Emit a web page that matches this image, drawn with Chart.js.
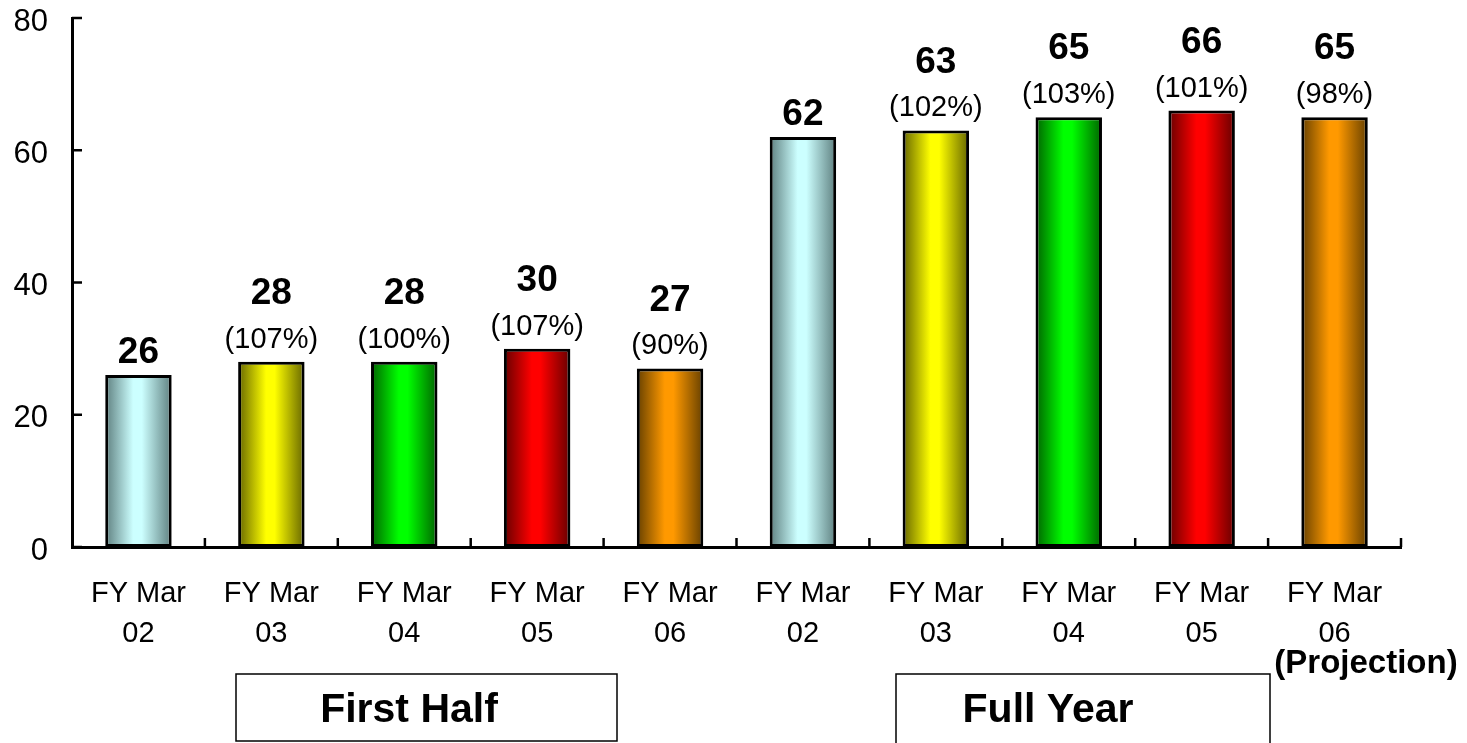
<!DOCTYPE html>
<html>
<head>
<meta charset="utf-8">
<script src="https://cdn.jsdelivr.net/npm/chart.js@4.4.1/dist/chart.umd.min.js"></script>
<style>
  html, body { margin: 0; padding: 0; background: #fff; }
  #wrap { width: 1467px; height: 743px; }
</style>
</head>
<body>
<div id="wrap"><canvas id="salesChart" width="1467" height="743"></canvas></div>
<script>
// Datos del gráfico
const categories = [
    ['FY Mar', '02'], ['FY Mar', '03'], ['FY Mar', '04'], ['FY Mar', '05'], ['FY Mar', '06'],
    ['FY Mar', '02'], ['FY Mar', '03'], ['FY Mar', '04'], ['FY Mar', '05'], ['FY Mar', '06']
];
const values = [26, 28, 28, 30, 27, 62, 63, 65, 66, 65];
const ratios = [null, '(107%)', '(100%)', '(107%)', '(90%)', null, '(102%)', '(103%)', '(101%)', '(98%)'];
const yTicks = [0, 20, 40, 60, 80];
const groupLabels = ['First Half', 'Full Year'];
const projectionLabel = '(Projection)';

// Colores: centro claro / bordes oscuros
const lightColors = ['#ccffff', '#ffff00', '#00ff00', '#ff0000', '#ff9900',
                     '#ccffff', '#ffff00', '#00ff00', '#ff0000', '#ff9900'];
const darkColors = ['#5e7f7f', '#666600', '#006400', '#660000', '#664000',
                    '#5e7f7f', '#666600', '#006400', '#660000', '#664000'];

const FONT = "'Liberation Sans', Arial, sans-serif";

// Degradado tipo cilindro en cada barra
const gradientBars = {
    id: 'gradientBars',
    beforeDatasetsDraw(chart) {
        const ctx = chart.ctx;
        chart.getDatasetMeta(0).data.forEach((bar, i) => {
            const x0 = bar.x - bar.width / 2, x1 = bar.x + bar.width / 2;
            const g = ctx.createLinearGradient(x0, 0, x1, 0);
            g.addColorStop(0, darkColors[i]);
            g.addColorStop(0.42, lightColors[i]);
            g.addColorStop(0.55, lightColors[i]);
            g.addColorStop(1, darkColors[i]);
            bar.options.backgroundColor = g;
        });
    }
};

// Marcas de los ejes (hacia dentro), etiquetas de valores y cajas de grupo
const decorations = {
    id: 'decorations',
    afterDraw(chart) {
        const ctx = chart.ctx;
        const area = chart.chartArea;
        const xs = chart.scales.x, ys = chart.scales.y;
        ctx.save();
        ctx.strokeStyle = '#000';
        ctx.lineWidth = 2.5;

        yTicks.forEach(v => {
            const y = ys.getPixelForValue(v);
            ctx.beginPath();
            ctx.moveTo(area.left, y);
            ctx.lineTo(area.left + 10, y);
            ctx.stroke();
        });

        const step = xs.getPixelForValue(1) - xs.getPixelForValue(0);
        for (let i = 0; i < categories.length; i++) {
            const x = xs.getPixelForValue(i) + step / 2;
            ctx.beginPath();
            ctx.moveTo(x, area.bottom);
            ctx.lineTo(x, area.bottom - 9);
            ctx.stroke();
        }

        // Valores y porcentajes
        ctx.fillStyle = '#000';
        ctx.textAlign = 'center';
        ctx.textBaseline = 'middle';
        chart.getDatasetMeta(0).data.forEach((bar, i) => {
            let y = bar.y - 22;
            if (ratios[i]) {
                ctx.font = '29px ' + FONT;
                ctx.fillText(ratios[i], bar.x, y);
                y -= 46;
            }
            ctx.font = 'bold 37px ' + FONT;
            ctx.fillText(String(values[i]), bar.x, y);
        });

        // Proyección
        ctx.font = 'bold 33px ' + FONT;
        ctx.fillText(projectionLabel, 1366, 664);

        // Cajas
        ctx.lineWidth = 1.5;
        ctx.strokeRect(236, 674, 381, 67);
        ctx.strokeRect(896, 674, 374, 80);
        ctx.font = 'bold 41px ' + FONT;
        ctx.fillText(groupLabels[0], 409, 711);
        ctx.fillText(groupLabels[1], 1048, 711);
        ctx.restore();
    }
};

new Chart(document.getElementById('salesChart'), {
    type: 'bar',
    data: {
        labels: categories,
        datasets: [{
            data: values,
            backgroundColor: lightColors,
            borderColor: '#000',
            borderWidth: 3,
            borderSkipped: false,
            barPercentage: 0.5,
            categoryPercentage: 1.0
        }]
    },
    options: {
        responsive: false,
        animation: false,
        layout: { padding: { top: 18, right: 66, left: 0, bottom: 0 } },
        plugins: {
            legend: { display: false },
            tooltip: { enabled: false }
        },
        scales: {
            x: {
                grid: { display: false, drawTicks: false },
                border: { display: true, color: '#000', width: 3 },
                ticks: {
                    color: '#000',
                    font: { family: FONT, size: 29, lineHeight: 1.38 },
                    padding: 27,
                    maxRotation: 0,
                    autoSkip: false
                },
                afterFit: scale => {
                    scale.height = 196;
                    scale.paddingLeft = 0;
                    scale.paddingRight = 0;
                }
            },
            y: {
                min: 0,
                max: 80,
                grid: { display: false, drawTicks: false },
                border: { display: true, color: '#000', width: 3 },
                ticks: {
                    stepSize: 20,
                    color: '#000',
                    font: { family: FONT, size: 31 },
                    padding: 24,
                    labelOffset: 4
                },
                afterFit: scale => {
                    scale.width = 72;
                    scale.paddingTop = 0;
                    scale.paddingBottom = 0;
                }
            }
        }
    },
    plugins: [gradientBars, decorations]
});
</script>
</body>
</html>
